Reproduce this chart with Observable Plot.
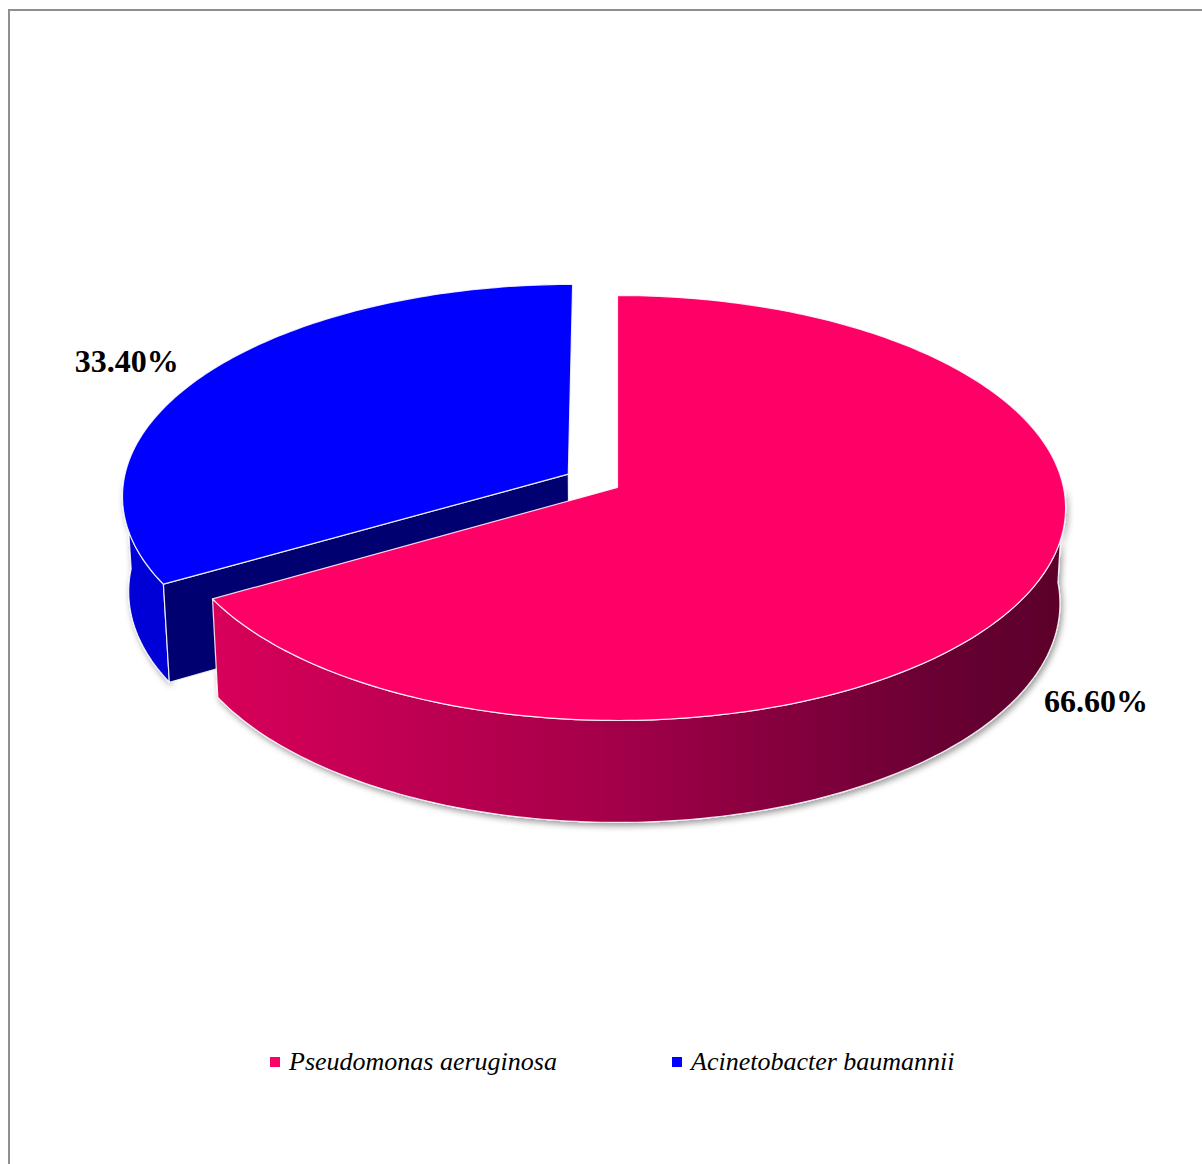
<!DOCTYPE html>
<html>
<head>
<meta charset="utf-8">
<script src="https://cdn.jsdelivr.net/npm/d3@7"></script>
<script src="https://cdn.jsdelivr.net/npm/@observablehq/plot@0.6"></script>
<style>
  html, body { margin: 0; padding: 0; background: #fff; }
  body { width: 1202px; height: 1164px; position: relative; overflow: hidden; }
  #frame { position: absolute; left: 8px; top: 9px; right: -5px; bottom: -5px;
           border-left: 2px solid #8f8f8f; border-top: 2px solid #8f8f8f; }
  #chart { position: absolute; left: 0; top: 0; }
  #legend { position: absolute; top: 1044px; left: 0; width: 1202px; height: 40px;
            font-family: "Liberation Serif", "Times New Roman", serif; font-style: italic; font-size: 26px; color: #000; }
  .item { position: absolute; top: 0; display: flex; align-items: center; height: 36px; }
  .sw { width: 10px; height: 10px; margin-right: 9px; }
</style>
</head>
<body>
<div id="frame"></div>
<div id="chart"></div>
<div id="legend"></div>
<script>
// ---- data ----
const categories = ["Pseudomonas aeruginosa", "Acinetobacter baumannii"];
const values = [66.6, 33.4];
const labels = ["66.60%", "33.40%"];

// ---- styles ----
const topColors = ["#FF0066", "#0000FF"];
const sideColors = ["url(#pinkSide)", "#0000D6"];
const cutColors = ["#5E002C", "#000070"];
const explode = [0, 0.128];

// ---- simple 3D perspective projection (unit radius pie) ----
const D = 9.14, sinP = 0.472, cosP = Math.sqrt(1 - sinP * sinP), H = 0.245;
function proj(X, Y, Z) {
  const depth = D - Y * sinP - Z * cosP;
  return { u: X * D / depth, v: -(Y * cosP - Z * sinP) * D / depth };
}
const rad = d => d * Math.PI / 180;
function rim(theta, r, Y, off) { // theta clockwise from 12 o'clock
  return proj(off[0] + r * Math.sin(rad(theta)), Y, off[1] - r * Math.cos(rad(theta)));
}

const total = d3.sum(values);
let acc = 0;
const slices = values.map((v, i) => {
  const a0 = acc / total * 360; acc += v; const a1 = acc / total * 360;
  const mid = (a0 + a1) / 2;
  const off = [explode[i] * Math.sin(rad(mid)), -explode[i] * Math.cos(rad(mid))];
  return { i, a0, a1, mid, off };
});

function arcPts(a0, a1, Y, off) {
  const n = Math.max(2, Math.ceil(Math.abs(a1 - a0)));
  return d3.range(n + 1).map(k => rim(a0 + (a1 - a0) * k / n, 1, Y, off));
}

const faces = [];
// draw back slice (blue) first, then pink
for (const s of [slices[1], slices[0]]) {
  const { i, a0, a1, off } = s;
  // outer side, only the front-facing part
  const lo = Math.max(a0, 90), hi = Math.min(a1, 270);
  if (hi > lo) {
    const pts = [...arcPts(lo, hi, 0, off), ...arcPts(hi, lo, -H, off)];
    faces.push({ fill: sideColors[i], pts, side: true });
  }
  // cut face at the start angle if it faces the viewer (only blue)
  if (i === 1) {
    const apex0 = proj(off[0], 0, off[1]), apex1 = proj(off[0], -H, off[1]);
    const r0 = rim(a0, 1, 0, off), r1 = rim(a0, 1, -H, off);
    faces.push({ fill: cutColors[i], pts: [apex0, r0, r1, apex1], side: false });
  }
  // top face
  const apex = proj(off[0], 0, off[1]);
  faces.push({ fill: topColors[i], pts: [apex, ...arcPts(a0, a1, 0, off)], side: false });
}

// labels positions
const labelPos = slices.map(s => {
  const r = s.i === 0 ? 1.18 : 1.225;
  const Y = s.i === 0 ? -0.205 : -0.02;
  const p = rim(s.mid, r, Y, s.off);
  return { ...p, text: labels[s.i] };
});

const defsMark = () => {
  const defs = d3.create("svg:defs");
  const g = defs.append("linearGradient").attr("id", "pinkSide").attr("x1", 0).attr("x2", 1).attr("y1", 0).attr("y2", 0);
  g.append("stop").attr("offset", "0%").attr("stop-color", "#D8005A");
  g.append("stop").attr("offset", "45%").attr("stop-color", "#A6004A");
  g.append("stop").attr("offset", "85%").attr("stop-color", "#690033");
  g.append("stop").attr("offset", "100%").attr("stop-color", "#5A002A");
  const f = defs.append("filter").attr("id", "shadow").attr("x", "-10%").attr("y", "-10%").attr("width", "130%").attr("height", "130%");
  f.append("feDropShadow").attr("dx", 2).attr("dy", 3).attr("stdDeviation", 3).attr("flood-color", "#000").attr("flood-opacity", 0.4);
  return defs.node();
};

const cx = 617, cy = 487, k = 446;
const plot = Plot.plot({
  width: 1202,
  height: 1030,
  margin: 0,
  x: { type: "linear", domain: [-1, 1], range: [cx - k, cx + k], axis: null },
  y: { type: "linear", domain: [-1, 1], range: [cy - k, cy + k], axis: null },
  marks: [
    defsMark,
    ...faces.map(f => Plot.line(f.pts, {
      x: "u", y: "v", curve: "linear-closed", fill: f.fill,
      stroke: "white", strokeWidth: 1.2, strokeOpacity: 0.85, strokeLinejoin: "round"
    })),
    Plot.text(labelPos, {
      x: "u", y: "v", text: "text", fontSize: 32, fontWeight: "bold",
      fontFamily: "Liberation Serif, Times New Roman, serif", fill: "black"
    })
  ]
});
plot.style.overflow = "visible";
// soft shadow under the side faces
plot.querySelectorAll("g").forEach(g => {
  const fl = g.getAttribute("fill");
  if (fl === "url(#pinkSide)" || fl === "#0000D6") g.setAttribute("filter", "url(#shadow)");
});
document.getElementById("chart").appendChild(plot);

// legend
const legend = document.getElementById("legend");
const legendX = [270, 672];
categories.forEach((c, i) => {
  const it = document.createElement("div");
  it.className = "item";
  it.style.left = legendX[i] + "px";
  it.innerHTML = `<span class="sw" style="background:${topColors[i]}"></span><span>${c}</span>`;
  legend.appendChild(it);
});
</script>
</body>
</html>
